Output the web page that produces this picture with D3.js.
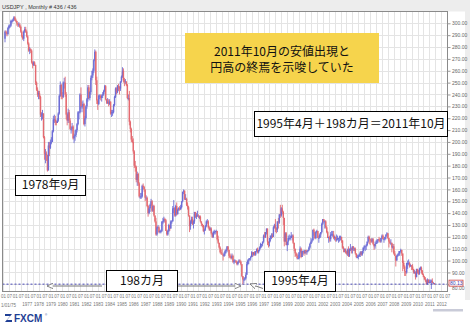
<!DOCTYPE html>
<html><head><meta charset="utf-8">
<script src="https://cdn.jsdelivr.net/npm/d3@7"></script>
<style>
body{margin:0;background:#fff;}
svg{display:block;}
.tick text{font-family:"Liberation Sans",Arial,sans-serif;}
</style>
</head><body>
<svg id="chart" width="470" height="331"></svg>
<script>
// USD/JPY monthly bars, March 1975 – June 2011 (436 bars)
const firstYear = 1975, firstMonth = 2;   // March (0-based)
const firstOpen = 287;
const closes = [
  293,292,291,296,298,298,302,302,303,305,
  303,302,300,299,299,297,293,289,287,293,295,293,
  289,283,277,278,277,267,265,267,265,250,244,240,
  241,238,223,223,224,204,190,190,189,176,197,195,
  200,200,209,219,219,217,216,218,224,239,248,239,
  238,250,250,240,223,218,225,218,211,211,213,203,
  205,206,210,215,225,225,240,230,230,232,215,220,
  230,236,246,237,242,254,256,260,269,276,252,235,
  232,239,239,237,239,240,243,247,236,233,234,232,
  234,224,225,225,231,238,245,242,247,246,245,251,
  255,260,252,251,251,248,237,237,217,211,202,200,
  192,180,179,168,173,165,154,154,154,163,162,160,
  153,153,146,140,144,147,150,142,146,138,133,122,
  128,128,124,125,125,133,133,135,134,125,122,125,
  130,127,133,133,144,144,138,146,139,143,144,143,
  145,150,158,159,152,152,147,145,138,129,133,135,
  131,133,141,137,138,138,137,137,133,131,130,125,
  126,129,133,133,128,126,127,123,120,124,124,125,
  125,118,115,111,107,106,105,104,106,108,109,112,
  109,104,103,102,104,99,100,100,99,97,99,100,
  99,97,87,84,84,85,88,97,100,101,102,103,
  107,105,107,105,108,110,107,109,111,114,114,116,
  121,120,124,127,116,115,119,121,121,120,128,130,
  127,126,133,132,139,138,144,141,136,116,123,113,
  116,119,119,119,121,121,115,110,106,104,102,102,
  107,110,103,108,108,106,109,107,108,109,111,114,
  116,117,126,124,119,124,125,119,119,122,124,131,
  135,133,133,128,124,119,120,118,122,122,122,119,
  120,118,118,119,119,120,120,117,111,110,110,107,
  106,109,104,110,110,109,112,110,110,106,103,103,
  104,105,107,105,108,111,112,112,113,116,120,118,
  117,116,118,114,112,114,115,117,118,117,116,119,
  121,118,118,120,122,123,119,116,115,115,111,112,
  106,104,100,104,105,106,108,109,106,98,95,91,
  90,98,98,98,95,96,95,93,90,90,86,93,
  90,89,93,94,91,88,86,84,83,80,84,81,
  82,82,83,81,81,80.13
];
const highs = [
  294,294,293,297,299,299,303,303,304,306,
  306,304,302,300,301,300,298,294,290,294,297,297,
  294,290,284,280,279,278,268,268,268,265,251,246,
  243,243,239,225,227,224,205,194,192,189,200,200,
  202,204,210,222,223,222,218,220,225,240,251,249,
  242,251,254,255,242,224,228,227,220,213,216,214,
  207,210,211,216,226,226,241,246,234,235,233,222,
  231,237,248,248,243,256,260,262,270,278,277,255,
  236,240,240,240,240,242,244,248,248,236,237,236,
  236,234,227,227,232,239,246,246,248,249,247,251,
  256,263,262,254,253,251,249,240,243,218,212,205,
  203,193,184,180,175,174,166,157,157,164,165,163,
  160,155,154,147,145,148,152,151,147,147,138,136,
  129,130,129,126,126,133,136,137,136,135,126,126,
  131,130,134,134,146,151,145,147,149,144,145,146,
  147,150,158,160,159,156,153,149,146,138,134,137,
  137,134,141,141,140,142,139,138,138,133,131,130,
  127,130,134,135,134,129,128,128,123,125,126,125,
  126,125,121,115,112,109,110,105,107,109,110,112,
  112,109,106,105,106,105,101,101,100,100,99,101,
  101,100,97,87,86,86,90,99,101,102,102,104,
  108,107,107,108,108,110,111,109,112,115,114,116,
  122,124,124,127,127,116,119,121,123,123,129,131,
  135,128,133,136,139,147,145,147,142,136,124,124,
  116,121,122,121,124,122,122,115,110,107,106,105,
  107,112,111,108,109,108,109,109,108,109,112,115,
  119,118,126,127,124,125,126,125,121,123,124,132,
  135,135,134,134,129,125,120,121,124,125,125,125,
  121,120,122,121,119,121,121,120,117,112,110,110,
  108,110,112,110,114,111,112,112,111,111,106,105,
  105,106,108,108,108,111,113,112,114,116,121,121,
  118,119,119,119,114,116,117,118,118,120,119,119,
  122,122,119,120,122,124,123,119,117,118,115,114,
  114,108,104,105,106,108,108,110,109,106,100,96,
  91,98,100,101,99,97,96,97,93,92,91,93,
  93,92,94,95,95,92,89,87,86,84,85,84,
  84,84,84,85,82,81
];
const lows = [
  284,290,289,290,295,296,297,300,301,302,
  302,301,298,297,297,296,292,288,286,285,292,292,
  288,282,276,274,275,266,262,264,264,248,243,238,
  236,236,221,218,219,203,185,182,184,175,176,188,
  194,198,200,208,216,214,214,216,217,223,238,236,
  236,237,245,238,219,214,216,216,210,207,209,202,
  199,201,204,208,214,219,224,228,225,228,214,213,
  219,228,234,236,235,240,252,254,258,268,248,232,
  227,231,236,235,234,237,239,242,235,232,232,230,
  231,223,221,222,224,230,237,240,241,243,240,243,
  250,254,250,247,249,247,236,235,214,208,200,199,
  190,178,175,166,163,163,153,152,152,153,160,158,
  150,151,145,137,139,141,146,141,141,137,132,121,
  121,127,123,123,123,124,131,132,132,125,121,121,
  124,125,127,131,133,140,137,137,138,139,142,142,
  143,144,149,156,151,151,146,143,137,124,126,131,
  130,127,131,136,135,137,136,135,132,129,128,124,
  122,125,128,131,127,125,125,122,119,119,122,122,
  123,117,114,110,106,105,105,100,103,104,106,107,
  108,102,102,101,101,98,97,98,98,96,96,98,
  98,96,86,80,81,83,84,88,96,97,100,100,
  103,103,104,104,104,107,106,106,108,110,111,112,
  115,119,119,122,113,111,112,116,118,119,120,127,
  124,123,124,127,131,136,137,139,130,112,116,113,
  108,113,117,117,119,117,114,108,103,104,101,101,
  101,106,102,103,105,104,106,105,105,107,108,110,
  114,115,117,121,118,118,123,119,115,119,120,123,
  130,132,127,127,123,119,115,116,116,121,120,118,
  117,116,116,117,115,116,117,115,110,107,107,106,
  105,104,103,103,108,106,106,108,108,105,102,102,
  101,103,103,104,104,106,109,108,109,112,115,114,
  113,115,115,113,109,110,114,114,115,116,115,115,
  118,118,115,117,118,121,118,111,114,113,107,110,
  105,104,95,100,103,104,104,107,104,91,93,87,
  87,89,93,96,94,95,92,92,89,89,84,86,
  89,88,88,92,89,88,86,84,82,80,80,81,
  81,81,76,81,80,80
];

// axis labels
const yTicks = d3.range(80, 301, 10);
const halfYearLabels = ["01", "07"];
const firstDateLabel = "1/01/75";
const lastPrice = 80.13;

// annotation texts
const noteLines = ["2011年10月の安値出現と", "円高の終焉を示唆していた"];
const formulaText = "1995年4月＋198カ月＝2011年10月";
const lowLabel1978 = "1978年9月";
const spanLabel = "198カ月";
const lowLabel1995 = "1995年4月";

const W = 470, H = 331;
const P = {l: 2.5, t: 11.5, r: 447.5, b: 291.5};
const cjk = '"Noto Sans CJK JP","Noto Sans CJK SC",sans-serif';
const sans = '"Liberation Sans",Arial,sans-serif';
const upColor = "#6c6cd6", downColor = "#e46a70";

const svg = d3.select("#chart");

// bar index -> x, price -> y
const x = d3.scaleLinear().domain([0, closes.length - 1]).range([5, 434.3]);
const y = d3.scaleLinear().domain([80, 300]).range([284.3, 23.3]);

const bars = closes.map((c, i) => {
  const o = i === 0 ? firstOpen : closes[i - 1];
  return {i, o, c, h: Math.max(highs[i], o, c), l: Math.min(lows[i], o, c)};
});

// header strip
svg.append("rect").attr("x", 0).attr("y", 0).attr("width", W).attr("height", P.t)
  .attr("fill", "#ededed");
svg.append("text").attr("x", 2).attr("y", 8.5)
  .attr("font-family", sans).attr("font-size", 5.5)
  .attr("fill", "#333").text("USDJPY , Monthly # 436 / 436");
// right margin strip
svg.append("rect").attr("x", 465).attr("y", 0).attr("width", 5).attr("height", 300)
  .attr("fill", "#ededed");

// half-year ticks (index relative to the first bar)
const halfYears = [];
for (let yr = firstYear; yr <= 2012; yr++) {
  for (const m of [0, 6]) {
    const idx = (yr - firstYear) * 12 + m - firstMonth;
    if (x(idx) >= P.l && x(idx) <= P.r) halfYears.push({yr, m, idx});
  }
}

// grid
const grid = svg.append("g");
grid.selectAll("line.v").data(halfYears).join("line")
  .attr("x1", d => Math.round(x(d.idx)) + 0.5).attr("x2", d => Math.round(x(d.idx)) + 0.5)
  .attr("y1", P.t).attr("y2", P.b).attr("stroke", "#e4e4e4").attr("stroke-width", 1);
grid.selectAll("line.h").data(yTicks).join("line")
  .attr("x1", P.l).attr("x2", P.r)
  .attr("y1", d => Math.round(y(d)) + 0.5).attr("y2", d => Math.round(y(d)) + 0.5)
  .attr("stroke", "#e4e4e4").attr("stroke-width", 1);

// candles
const cg = svg.append("g");
cg.selectAll("line").data(bars).join("line")
  .attr("x1", d => x(d.i)).attr("x2", d => x(d.i))
  .attr("y1", d => y(d.h)).attr("y2", d => y(d.l))
  .attr("stroke", d => d.c >= d.o ? upColor : downColor).attr("stroke-width", 0.9);
cg.selectAll("rect").data(bars).join("rect")
  .attr("x", d => x(d.i) - 0.7).attr("width", 1.4)
  .attr("y", d => y(Math.max(d.o, d.c)))
  .attr("height", d => Math.max(0.8, Math.abs(y(d.o) - y(d.c))))
  .attr("fill", d => d.c >= d.o ? upColor : downColor);

// last price line
svg.append("line").attr("x1", P.l).attr("x2", P.r)
  .attr("y1", y(lastPrice)).attr("y2", y(lastPrice))
  .attr("stroke", "#4a4ab8").attr("stroke-width", 1).attr("stroke-dasharray", "2,2");

// frame
svg.append("rect").attr("x", P.l).attr("y", P.t).attr("width", P.r - P.l).attr("height", P.b - P.t)
  .attr("fill", "none").attr("stroke", "#8a8a8a");

// right price axis; the 80.00 label sits just under the last-price tag
const ya = svg.append("g").attr("transform", `translate(${P.r},0)`)
  .call(d3.axisRight(y).tickValues(yTicks).tickFormat(d3.format(".2f")).tickSize(3).tickPadding(1.5));
ya.select(".domain").remove();
ya.selectAll("line").attr("stroke", "#999");
ya.selectAll("text").attr("font-size", 5).attr("fill", "#666");
ya.selectAll(".tick").filter(d => d === 80).select("text").attr("dy", "1.05em");

// last price tag
svg.append("rect").attr("x", 449).attr("y", y(lastPrice) - 4).attr("width", 14).attr("height", 6)
  .attr("fill", "#fff").attr("stroke", "#d04040").attr("stroke-width", 0.8);
svg.append("text").attr("x", 450).attr("y", y(lastPrice) + 0.8)
  .attr("font-family", sans).attr("font-size", 5).attr("fill", "#3a3ab0")
  .text(lastPrice.toFixed(2));

// bottom time axis: month row and year row
const xa = svg.append("g").attr("transform", `translate(0,${P.b})`)
  .call(d3.axisBottom(x).tickValues(halfYears.map(d => d.idx))
    .tickFormat(idx => halfYearLabels[halfYears.find(d => d.idx === idx).m === 0 ? 0 : 1])
    .tickSize(0).tickPadding(3));
xa.select(".domain").remove();
xa.selectAll("text").attr("font-size", 4.5).attr("fill", "#777");

const years = halfYears.filter(d => d.m === 0 && d.yr >= 1977);
const xy = svg.append("g").attr("transform", `translate(0,${P.b + 8})`)
  .call(d3.axisBottom(x).tickValues(years.map(d => d.idx))
    .tickFormat(idx => String(years.find(d => d.idx === idx).yr)).tickSize(0).tickPadding(3));
xy.select(".domain").remove();
xy.selectAll("text").attr("font-size", 4.5).attr("fill", "#777");
svg.append("text").attr("x", 1).attr("y", P.b + 15)
  .attr("font-family", sans).attr("font-size", 4.5).attr("fill", "#777")
  .text(firstDateLabel);

// scroll bar
svg.append("rect").attr("x", 433).attr("y", 309).attr("width", 30).attr("height", 2.5).attr("fill", "#c9cbd8");

// logo
const logo = svg.append("g").attr("transform", "translate(5,313)");
logo.append("path").attr("d", "M0,1 L7,1 L2,7 L7,7 L7,9 L0,9 L5,3 L0,3 Z").attr("fill", "#1f3f95");
logo.append("text").attr("x", 9).attr("y", 9)
  .attr("font-family", sans).attr("font-weight", "bold")
  .attr("font-size", 10).attr("fill", "#1f3f95").text("FXCM");
logo.append("text").attr("x", 40).attr("y", 3)
  .attr("font-family", sans).attr("font-size", 3).attr("fill", "#1f3f95").text("®");

// yellow note, two lines in one text element
svg.append("rect").attr("x", 185).attr("y", 33).attr("width", 194).attr("height", 50).attr("fill", "#f6d44c");
svg.append("text").attr("font-family", cjk).attr("font-size", 12).attr("fill", "#111")
  .attr("text-anchor", "middle")
  .selectAll("tspan").data(noteLines).join("tspan")
  .attr("x", 282).attr("y", (d, i) => 56 + i * 15.5).text(d => d);

function labelBox(x0, y0, w, h, txt, fs) {
  svg.append("rect").attr("x", x0 + 0.5).attr("y", y0 + 0.5).attr("width", w).attr("height", h)
    .attr("fill", "#fff").attr("stroke", "#000").attr("stroke-width", 1);
  svg.append("text").attr("x", x0 + w / 2 + 0.5).attr("y", y0 + h / 2 + fs * 0.36)
    .attr("text-anchor", "middle").attr("font-family", cjk).attr("font-size", fs)
    .attr("fill", "#111").text(txt);
}
labelBox(254, 111, 193, 25, formulaText, 12);
labelBox(15, 175, 70, 20, lowLabel1978, 12);
labelBox(106, 270, 71, 21, spanLabel, 12);
labelBox(264, 271, 71, 20, lowLabel1995, 12);

// arrows
const defs = svg.append("defs");
defs.append("marker").attr("id", "head").attr("viewBox", "0 0 10 10").attr("refX", 9).attr("refY", 5)
  .attr("markerWidth", 7).attr("markerHeight", 7).attr("orient", "auto")
  .append("path").attr("d", "M0,1 L9,5 L0,9 Z").attr("fill", "#fff").attr("stroke", "#777").attr("stroke-width", 1.2);
const arrow = (x1, y1, x2, y2) => svg.append("line")
  .attr("x1", x1).attr("y1", y1).attr("x2", x2).attr("y2", y2)
  .attr("stroke", "#777").attr("stroke-width", 1).attr("marker-end", "url(#head)");
arrow(102, 286, 47, 286);
arrow(178, 286, 241, 286);
arrow(263, 288.5, 250, 284);
</script>
</body></html>
